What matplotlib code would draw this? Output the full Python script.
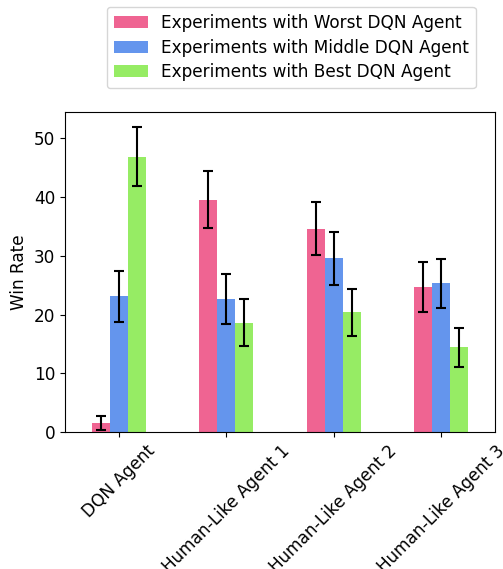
import numpy as np
import matplotlib
matplotlib.use("Agg")
import matplotlib.pyplot as plt

agents = ["DQN Agent", "Human-Like Agent 1", "Human-Like Agent 2", "Human-Like Agent 3"]
series = ["Experiments with Worst DQN Agent",
          "Experiments with Middle DQN Agent",
          "Experiments with Best DQN Agent"]
worst = [1.5, 39.6, 34.6, 24.7]
worst_err = [1.2, 4.8, 4.5, 4.2]
middle = [23.1, 22.6, 29.6, 25.3]
middle_err = [4.3, 4.3, 4.5, 4.2]
best = [46.9, 18.6, 20.4, 14.4]
best_err = [5.0, 4.0, 4.0, 3.3]
colors = ["#ef6492", "#6495ed", "#96ec64"]

values = [worst, middle, best]
errors = [worst_err, middle_err, best_err]

fs = 12.2
fig = plt.figure(figsize=(5.03, 5.69), dpi=100)
ax = fig.add_axes([0.129, 0.241, 0.855, 0.562])

x = np.arange(len(agents))
w = 1 / 6
for i in range(3):
    ax.bar(x + (i - 1) * w, values[i], w, yerr=errors[i], color=colors[i],
           label=series[i], capsize=3.5,
           error_kw=dict(ecolor="black", elinewidth=1.5, capthick=1.5))

ax.set_xlim(-0.5, 3.5)
ax.set_ylim(0, 54.5)
ax.set_xticks(x)
ax.set_xticklabels(agents, rotation=45, fontsize=fs)
ax.tick_params(axis="y", labelsize=fs)
ax.set_ylabel("Win Rate", fontsize=fs)

fig.legend(loc="upper left", bbox_to_anchor=(107 / 503, 1 - 7 / 569),
           borderaxespad=0, fontsize=fs, labelspacing=0.4)

fig.savefig("out.png", dpi=100)
